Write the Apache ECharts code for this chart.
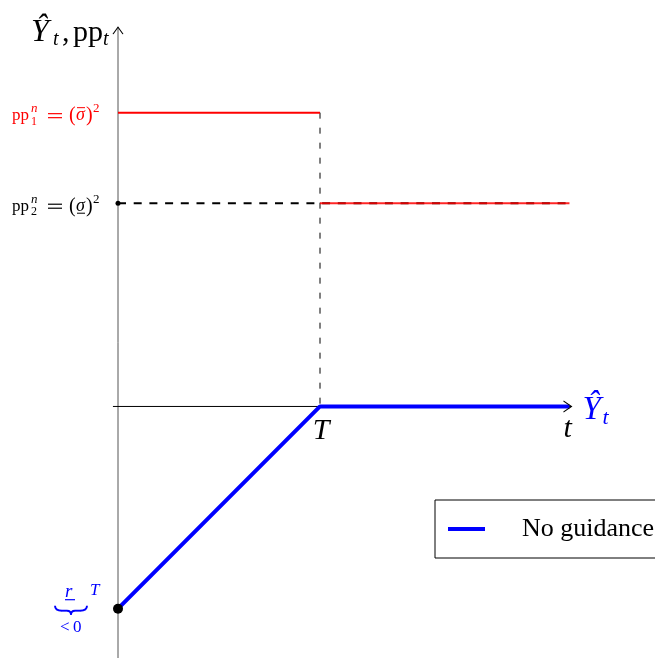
<!DOCTYPE html>
<html>
<head>
<meta charset="utf-8">
<script src="https://cdn.jsdelivr.net/npm/echarts@6.0.0/dist/echarts.min.js"></script>
<style>
  html, body { margin: 0; padding: 0; background: #fff; }
  #main { width: 655px; height: 658px; }
</style>
</head>
<body>
<div id="main"></div>
<script>
// data (1 unit ~ 101px)
var tValues = [0, 2, 4.47];          // start, T, end of horizon
var noGuidance = [-2.01, 0, 0];      // Y hat under no guidance
var ppHigh = 2.92;                   // pp_1^n = (sigma bar)^2
var ppLow = 2.02;                    // pp_2^n = (sigma underline)^2
var tAxisSpan = [-0.05, 4.49];       // horizontal axis drawn from / to
var yAxisSpan = [-2.5, 3.77];        // vertical axis drawn from / to

var BLUE = '#0000ff';
var RED = '#ff0000';
var SERIF = '"Liberation Serif", "Times New Roman", serif';

var chart = echarts.init(document.getElementById('main'));

function seg(x1, y1, x2, y2) {
  return [[x1, y1], [x2, y2]];
}

var option = {
  backgroundColor: '#ffffff',
  animation: false,
  grid: { left: 17, top: 4, width: 606, height: 656.5 },
  xAxis: { type: 'value', min: -1, max: 5, show: false },
  yAxis: { type: 'value', min: -2.5, max: 4, show: false },
  legend: {
    data: [{ name: 'No guidance', icon: 'rect' }],
    left: 435,
    top: 500,
    padding: [15, 20, 15, 13],
    itemWidth: 37,
    itemHeight: 4,
    borderColor: '#000',
    borderWidth: 1,
    backgroundColor: '#fff',
    selectedMode: false,
    textStyle: {
      fontFamily: SERIF,
      fontSize: 26,
      color: '#000',
      lineHeight: 28,
      padding: [0, 0, 0, 32]
    }
  },
  series: [
    // vertical axis
    {
      type: 'line', silent: true, symbol: 'none', z: 1,
      data: seg(0, yAxisSpan[0], 0, yAxisSpan[1]),
      lineStyle: { color: '#555', width: 1 }
    },
    // horizontal axis
    {
      type: 'line', silent: true, symbol: 'none', z: 1,
      data: seg(tAxisSpan[0], 0, tAxisSpan[1], 0),
      lineStyle: { color: '#000', width: 1 }
    },
    // pp2 dashed level
    {
      type: 'line', silent: true, symbol: 'none', z: 2,
      data: seg(0, ppLow, tValues[2], ppLow),
      lineStyle: { color: '#000', width: 2, type: [8, 7.7] }
    },
    // vertical dashed at T
    {
      type: 'line', silent: true, symbol: 'none', z: 2,
      data: seg(tValues[1], ppHigh, tValues[1], 0),
      lineStyle: { color: '#000', width: 1, type: [6, 9] }
    },
    // pp path: high before T, low after T
    {
      type: 'line', silent: true, symbol: 'none', z: 3,
      data: seg(0, ppHigh, tValues[1], ppHigh),
      lineStyle: { color: RED, width: 2 }
    },
    {
      type: 'line', silent: true, symbol: 'none', z: 3,
      data: seg(tValues[1], ppLow, tValues[2], ppLow),
      lineStyle: { color: RED, width: 2, opacity: 0.85 }
    },
    {
      name: 'No guidance',
      type: 'line', silent: true, symbol: 'none', z: 4,
      data: tValues.map(function (t, i) { return [t, noGuidance[i]]; }),
      itemStyle: { color: BLUE },
      lineStyle: { color: BLUE, width: 4 }
    },
    // dots on the vertical axis
    {
      type: 'scatter', silent: true, z: 5,
      symbol: 'circle',
      itemStyle: { color: '#000', opacity: 1 },
      data: [
        { value: [0, noGuidance[0]], symbolSize: 10 },
        { value: [0, ppLow], symbolSize: 5 }
      ]
    },
    // arrow heads
    {
      type: 'scatter', silent: true, z: 6,
      symbolKeepAspect: false,
      itemStyle: { color: 'none', borderColor: '#000', borderWidth: 1, opacity: 1 },
      data: [
        { value: [0, yAxisSpan[1]], symbol: 'path://M0,7 L5,0 L10,7', symbolSize: [10, 7], symbolOffset: [0, 3.5] },
        { value: [tAxisSpan[1], 0], symbol: 'path://M0,0 L8,5.5 L0,11', symbolSize: [8, 11], symbolOffset: [-4, 0] }
      ]
    }
  ]
};
chart.setOption(option);

// text pieces placed on their baseline
function mathText(x, base, s, size, color, italic, align) {
  return {
    type: 'text', silent: true, z: 10,
    x: x, y: base - 0.24 * size,
    style: {
      text: s,
      fontFamily: SERIF,
      fontSize: size,
      fontStyle: italic ? 'italic' : 'normal',
      fill: color || '#000',
      align: align || 'left',
      verticalAlign: 'middle'
    }
  };
}
function hline(x1, x2, y, color, w) {
  return {
    type: 'line', silent: true, z: 10,
    shape: { x1: x1, y1: y, x2: x2, y2: y },
    style: { stroke: color, lineWidth: w }
  };
}
function curve(ox, oy, p, color) {
  return {
    type: 'bezierCurve', silent: true, z: 10,
    shape: {
      x1: ox + p[0], y1: oy + p[1], cpx1: ox + p[2], cpy1: oy + p[3],
      cpx2: ox + p[4], cpy2: oy + p[5], x2: ox + p[6], y2: oy + p[7]
    },
    style: { stroke: color, fill: 'none', lineWidth: 1.9 }
  };
}
function px(x, y) {
  return chart.convertToPixel({ gridIndex: 0 }, [x, y]);
}

// pp_k^n = (sigma)^2 label left of the vertical axis
function levelLabel(a, sub, color, barAbove) {
  var x = a[0], y = a[1];
  return [
    mathText(x - 106, y + 7, 'pp', 17, color),
    mathText(x - 87, y + 12, sub, 12, color),
    mathText(x - 87, y - 1, 'n', 13, color, true),
    hline(x - 70, x - 56, y + 1, color, 1.2),
    hline(x - 70, x - 56, y + 5, color, 1.2),
    mathText(x - 49, y + 8, '(', 20, color),
    mathText(x - 42, y + 7, 'σ', 18, color, true),
    hline(x - 41, x - 33, barAbove ? y - 5 : y + 10, color, 1),
    mathText(x - 32, y + 8, ')', 20, color),
    mathText(x - 25, y - 1, '2', 13, color)
  ];
}

var axTop = px(0, yAxisSpan[1]);
var hi = px(0, ppHigh);
var lo = px(0, ppLow);
var st = px(0, noGuidance[0]);
var kT = px(tValues[1], 0);
var axEnd = px(tAxisSpan[1], 0);

// underbrace below r
var bx = st[0] - 63, by = st[1] - 3;
var brace = [
  curve(bx, by, [0, 0, 0, 4, 3, 5, 7, 5], BLUE),
  hline(bx + 7, bx + 12, by + 5, BLUE, 1.9),
  curve(bx, by, [12, 5, 15, 5, 16, 7, 16, 9], BLUE),
  curve(bx, by, [16, 9, 16, 7, 17, 5, 20, 5], BLUE),
  hline(bx + 20, bx + 25, by + 5, BLUE, 1.9),
  curve(bx, by, [25, 5, 29, 5, 32, 4, 32, 0], BLUE)
];

var elements = [
  // axis title
  mathText(axTop[0] - 87, axTop[1] + 13, 'Ŷ', 32, '#000', true),
  mathText(axTop[0] - 65, axTop[1] + 17, 't', 20, '#000', true),
  mathText(axTop[0] - 56, axTop[1] + 13, ',', 30, '#000'),
  mathText(axTop[0] - 45, axTop[1] + 13, 'pp', 30, '#000'),
  mathText(axTop[0] - 15, axTop[1] + 17, 't', 20, '#000', true),
  // T and t
  mathText(kT[0] + 1, kT[1] + 32, 'T', 30, '#000', true, 'center'),
  mathText(axEnd[0] - 8, axEnd[1] + 30, 't', 30, '#000', true),
  // Y hat label of the blue path
  mathText(axEnd[0] + 11, axEnd[1] + 12, 'Ŷ', 33, BLUE, true),
  mathText(axEnd[0] + 31, axEnd[1] + 17, 't', 22, BLUE, true),
  // starting point r^T with underbrace <0
  mathText(st[0] - 53, st[1] - 12, 'r', 19, BLUE, true),
  hline(st[0] - 53, st[0] - 43, st[1] - 9, BLUE, 1.2),
  mathText(st[0] - 28, st[1] - 14, 'T', 17, BLUE, true),
  mathText(st[0] - 58, st[1] + 23, '<', 17, BLUE),
  mathText(st[0] - 45, st[1] + 23, '0', 17, BLUE)
];
elements = elements.concat(brace, levelLabel(hi, '1', RED, true), levelLabel(lo, '2', '#000', false));

chart.setOption({ graphic: elements });
</script>
</body>
</html>
